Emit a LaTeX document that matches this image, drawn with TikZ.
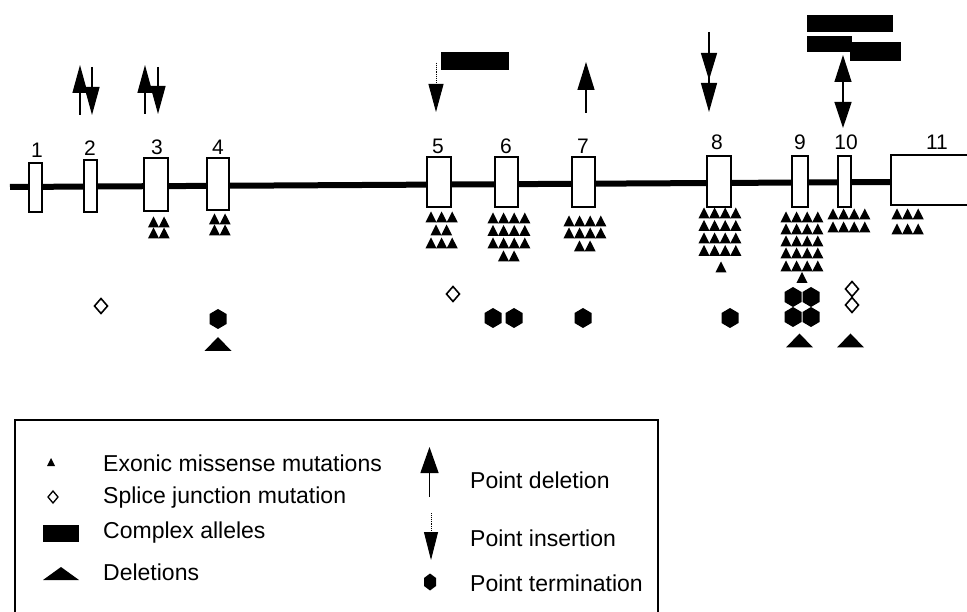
\documentclass[tikz,border=0pt]{standalone}
\usepackage{fontspec}
\setmainfont{Liberation Sans}
\usetikzlibrary{arrows.meta}

\newcommand{\missense}[2]{\fill ({#1-5.6},{#2+5.5}) -- ({#1},{#2-5.5}) -- ({#1+5.6},{#2+5.5}) -- cycle;}
\newcommand{\misrow}[3]{\foreach \k in {1,...,#3} {\missense{#1+(\k-1)*10.6}{#2}}}
\newcommand{\splicej}[2]{\draw[line width=1.6pt, fill=white] ({#1},{#2-7.5}) -- ({#1+6.5},{#2}) -- ({#1},{#2+7.5}) -- ({#1-6.5},{#2}) -- cycle;}
\newcommand{\ptterm}[2]{\fill ({#1},{#2-10}) -- ({#1+8.5},{#2-5}) -- ({#1+8.5},{#2+5}) -- ({#1},{#2+10}) -- ({#1-8.5},{#2+5}) -- ({#1-8.5},{#2-5}) -- cycle;}
\newcommand{\bigdel}[2]{\fill ({#1-13.5},{#2+7}) -- ({#1},{#2-7}) -- ({#1+13.5},{#2+7}) -- cycle;}

\begin{document}
\begin{tikzpicture}[x=1pt, y=-1pt,
    exon/.style={draw, fill=white, line width=1.2pt, inner sep=0pt, outer sep=0pt},
    num/.style={font=\fontsize{21}{25}\selectfont, inner sep=0pt},
    key/.style={font=\fontsize{23}{27}\selectfont, anchor=west, inner sep=0pt},
    ptarrow/.style={line width=1.3pt, -{Triangle[width=15pt,length=28pt]}}]
  \useasboundingbox (0,0) rectangle (967,612);

  \draw[line width=6pt] (10,187) -- (891,182);
  \foreach \n/\cx/\cy/\w/\h in {1/35.5/187.5/13/49, 2/90.5/186/13/52, 3/156/184.5/24/53,
      4/218/184/22/52, 5/439/182/24/50, 6/506.5/182/23/50, 7/583.5/182/23/50,
      8/719/181.5/24/51, 9/800/181.5/16/51, 10/844.5/181.5/13/51, 11/935.5/180/89/50}
    \node[exon, minimum width=\w, minimum height=\h] (e\n) at (\cx,\cy) {};
  \foreach \n/\lx/\ly in {1/37/150, 2/90/148, 3/157/147, 4/218/147, 5/438/146, 6/506/146,
      7/583/146, 8/717/142, 9/800/142, 10/846/142, 11/937/142}
    \node[num] (l\n) at (\lx,\ly) {\n};

  \draw[ptarrow] (80,115) -- (80,65);
  \draw[ptarrow] (92,67) -- (92,115);
  \draw[ptarrow] (145,114) -- (145,65);
  \draw[ptarrow] (158,67) -- (158,114);
  \draw[ptarrow, line width=0.9pt, densely dotted] (436,63) -- (436,112);
  \fill (441,52) rectangle (509,70);
  \draw[ptarrow, -{Triangle[width=17pt,length=28pt]}] (586,113) -- (586,62);
  \draw[line width=1.3pt, -{Triangle[width=16pt,length=27pt,sep=3pt] Triangle[width=16pt,length=29pt]}]
        (709,32) -- (709,112);
  \draw[line width=1.3pt, {Triangle[width=17pt,length=27pt]}-{Triangle[width=17pt,length=26pt]}]
        (843,55) -- (843,128);
  \fill (807,15) rectangle (893,32);
  \fill (807,36) rectangle (852,52);
  \fill (850,42) rectangle (901,61);

  \misrow{153.5}{222}{2} \misrow{153.5}{233}{2}
  \misrow{214.5}{219}{2} \misrow{214.5}{230}{2}
  \misrow{431}{217}{3} \misrow{436}{230}{2} \misrow{431}{243}{3}
  \misrow{493}{218}{4} \misrow{493}{230.5}{4} \misrow{493}{243}{4} \misrow{503.5}{256}{2}
  \misrow{569}{221}{4} \misrow{569}{233}{4} \misrow{579.5}{246}{2}
  \foreach \y in {213,225.5,238,250.5} {\misrow{704}{\y}{4}}
  \missense{721}{267}
  \foreach \y in {217,229,241,253,266} {\misrow{786}{\y}{4}}
  \missense{802}{277.5}
  \misrow{833}{214}{4} \misrow{833}{227}{4}
  \misrow{897}{214}{3} \misrow{897}{229}{3}

  \splicej{101}{306}
  \splicej{453}{294}
  \splicej{852}{289}
  \splicej{852}{305}

  \ptterm{218}{319}
  \ptterm{493}{318} \ptterm{514}{318}
  \ptterm{583}{318}
  \ptterm{730}{318}
  \ptterm{793}{297} \ptterm{811}{297} \ptterm{793}{317} \ptterm{811}{317}

  \bigdel{218}{344}
  \bigdel{799.5}{340.5}
  \bigdel{850.5}{340.5}

  \draw[line width=1.5pt] (15,420) rectangle (658,625);
  \fill (47,466) -- (51,458) -- (55,466) -- cycle;
  \draw[line width=1.3pt] (53,491) -- (58,497) -- (53,503) -- (48,497) -- cycle;
  \fill (43,525) rectangle (79,542);
  \fill (43,580) -- (61,567) -- (79,580) -- cycle;
  \node[key] (k1) at (103,463) {Exonic missense mutations};
  \node[key] (k2) at (103,498) {Splice junction mutation};
  \node[key] (k3) at (103,533) {Complex alleles};
  \node[key] (k4) at (103,572) {Deletions};

  \draw[line width=1.3pt, -{Triangle[width=18pt,length=26pt]}] (429.5,497) -- (429.5,447);
  \draw[line width=0.9pt, densely dotted, -{Triangle[width=14pt,length=28pt]}] (431,513) -- (431,560);
  \fill (430,573.5) -- (436,578) -- (436,586) -- (430,590.5) -- (424,586) -- (424,578) -- cycle;
  \node[key] (k5) at (470,480) {Point deletion};
  \node[key] (k6) at (470,538) {Point insertion};
  \node[key] (k7) at (470,583) {Point termination};
\end{tikzpicture}
\end{document}
